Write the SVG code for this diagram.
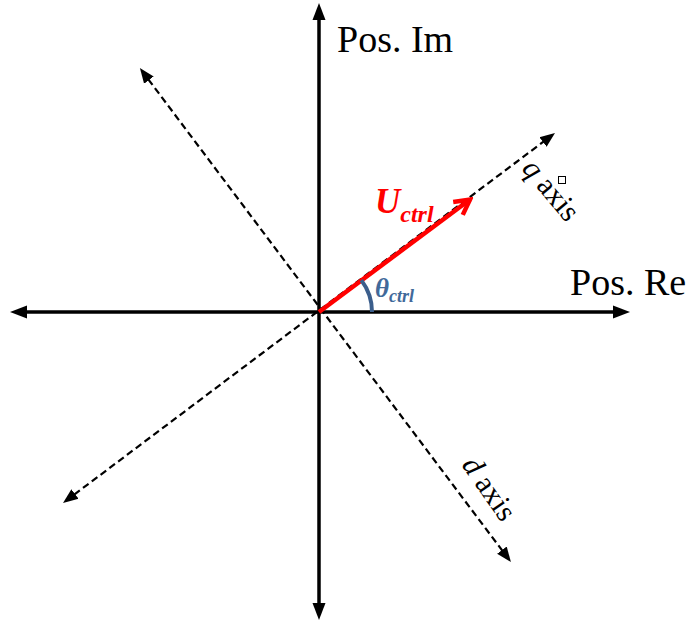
<svg xmlns="http://www.w3.org/2000/svg" width="694" height="623" viewBox="0 0 694 623">
<style>
.axis{stroke:#000;stroke-width:3.5;fill:none}
.dash{stroke:#000;stroke-width:2.2;stroke-dasharray:7,4;fill:none}
.lbl{font-family:"Liberation Serif","Times New Roman",serif;fill:#000}
.it{font-style:italic}
.red{fill:#ff0000;font-weight:bold;font-style:italic;font-family:"Liberation Serif",serif}
.blue{fill:#41699a;font-weight:bold;font-style:italic;font-family:"Liberation Serif",serif}
</style>
<defs>
<marker id="ah" markerUnits="userSpaceOnUse" markerWidth="18" markerHeight="16" viewBox="0 -8 18 16" refX="1" refY="0" orient="auto-start-reverse">
<path d="M0,-6.5 L17,0 L0,6.5 z" fill="#000"/>
</marker>
<marker id="dh" markerUnits="userSpaceOnUse" markerWidth="16" markerHeight="14" viewBox="0 -7 16 14" refX="1" refY="0" orient="auto-start-reverse">
<path d="M0,-6 L15,0 L0,6 z" fill="#000"/>
</marker>
<marker id="rh" markerUnits="userSpaceOnUse" markerWidth="24" markerHeight="24" viewBox="-20 -12 24 24" refX="0" refY="0" orient="auto">
<path d="M-15,-8 L0,0 L-15,8" fill="none" stroke="#ff0000" stroke-width="4.5" stroke-linejoin="miter"/>
</marker>
</defs>
<g id="connectors">
<line class="axis" x1="319" y1="19" x2="319" y2="604" marker-start="url(#ah)" marker-end="url(#ah)"/>
<line class="axis" x1="26" y1="312" x2="614" y2="312" marker-start="url(#ah)" marker-end="url(#ah)"/>
<line class="dash" x1="74.2" y1="494.6" x2="543.8" y2="141.4" marker-start="url(#dh)" marker-end="url(#dh)"/>
<line class="dash" x1="148.3" y1="79.3" x2="502.5" y2="550.9" marker-start="url(#dh)" marker-end="url(#dh)"/>
</g>
<g id="u-ctrl">
<line x1="319" y1="312" x2="470" y2="199.5" stroke="#ff0000" stroke-width="4.5" marker-end="url(#rh)"/>
<text class="red" x="375" y="213" font-size="35">U<tspan font-size="24" dy="9">ctrl</tspan></text>
</g>
<g id="theta">
<path d="M372,312 A53,53 0 0 0 361.3,280.1" fill="none" stroke="#3b5e8c" stroke-width="4"/>
<text class="blue" x="375" y="297" font-size="27">θ<tspan font-size="18" dy="5">ctrl</tspan></text>
</g>
<g id="pos-im">
<text class="lbl" x="337" y="52" font-size="38">Pos. Im</text>
</g>
<g id="pos-re">
<text class="lbl" x="570" y="295" font-size="38">Pos. Re</text>
</g>
<g id="q-axis">
<text class="lbl" transform="translate(521,169) rotate(50)" font-size="30"><tspan class="it">q</tspan> axis</text>
<rect x="558.5" y="176.5" width="7" height="7" fill="#fff" stroke="#000" stroke-width="1"/>
</g>
<g id="d-axis">
<text class="lbl" transform="translate(461,465) rotate(55)" font-size="30"><tspan class="it">d</tspan> axis</text>
</g>
</svg>
